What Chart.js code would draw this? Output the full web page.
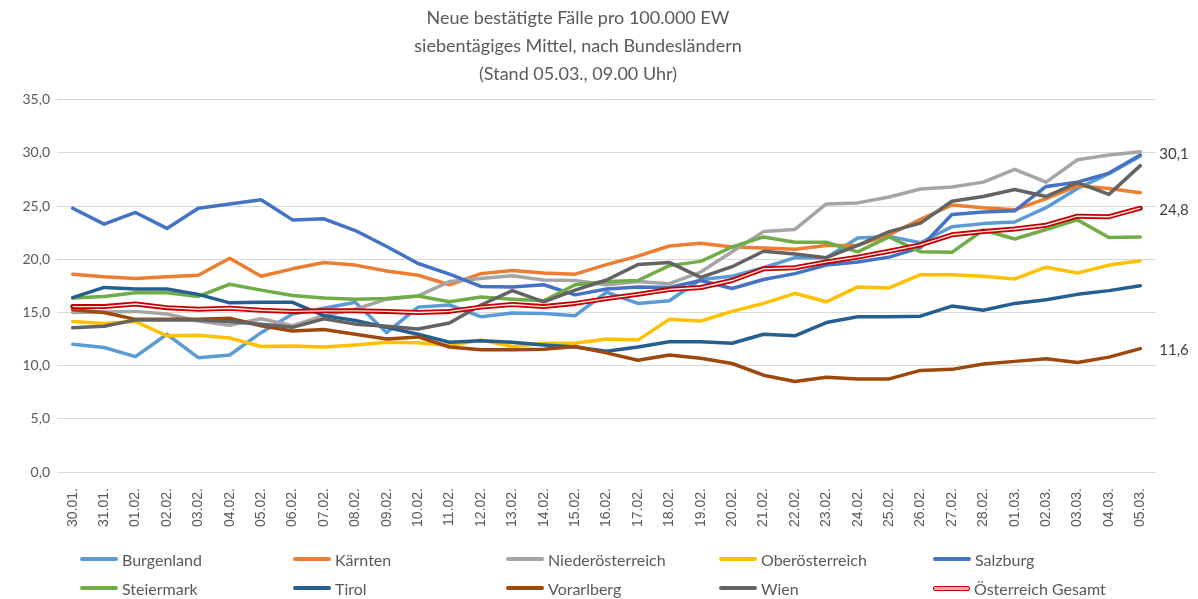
<!DOCTYPE html>
<html lang="de">
<head>
<meta charset="utf-8">
<title>Neue bestätigte Fälle pro 100.000 EW</title>
<script src="https://cdn.jsdelivr.net/npm/chart.js@4.4.1/dist/chart.umd.min.js"></script>
<style>
  html,body{margin:0;padding:0;background:#fff}
  #wrap{position:relative;width:1198px;height:599px;overflow:hidden}
  #legend{position:absolute;left:0;top:0;width:1198px;height:599px;pointer-events:none;font-family:Lato,'Liberation Sans',sans-serif;font-size:16px;color:#595959}
  .lg-item{position:absolute;display:flex;align-items:center;height:20px;white-space:nowrap}
  .lg-line{display:inline-block;width:38px;height:4px;border-radius:2px;margin-right:4px}
</style>
</head>
<body>
<div id="wrap">
  <canvas id="chart"></canvas>
  <div id="legend"></div>
</div>
<script>
// ── data ──
const labels = ['30.01.','31.01.','01.02.','02.02.','03.02.','04.02.','05.02.','06.02.','07.02.','08.02.',
  '09.02.','10.02.','11.02.','12.02.','13.02.','14.02.','15.02.','16.02.','17.02.','18.02.',
  '19.02.','20.02.','21.02.','22.02.','23.02.','24.02.','25.02.','26.02.','27.02.','28.02.',
  '01.03.','02.03.','03.03.','04.03.','05.03.'];
const yTicks = [0,5,10,15,20,25,30,35];

const burgenland  = [12.0,11.7,10.85,12.95,10.75,11.0,13.1,14.85,15.4,15.95,13.1,15.5,15.7,14.6,14.95,14.9,14.7,16.9,15.85,16.1,18.1,18.4,19.2,20.15,20.15,22.0,22.15,21.55,23.05,23.35,23.5,24.85,26.65,28.05,29.7];
const kaernten    = [18.6,18.35,18.2,18.35,18.5,20.1,18.4,19.1,19.7,19.45,18.9,18.5,17.6,18.65,18.95,18.7,18.6,19.5,20.3,21.25,21.5,21.15,21.05,20.95,21.3,21.3,22.3,23.75,25.1,24.85,24.65,25.7,26.9,26.65,26.25];
const noe         = [15.0,15.05,15.1,14.85,14.2,13.8,14.4,13.75,14.7,15.3,16.25,16.55,17.9,18.2,18.45,18.05,18.0,17.6,17.9,17.7,18.8,20.7,22.6,22.8,25.2,25.3,25.85,26.6,26.8,27.25,28.45,27.25,29.35,29.8,30.1];
const ooe         = [14.15,13.95,14.15,12.8,12.85,12.6,11.8,11.85,11.75,11.95,12.2,12.15,11.9,12.4,11.8,12.1,12.1,12.5,12.4,14.35,14.2,15.1,15.85,16.8,16.0,17.4,17.3,18.55,18.55,18.4,18.15,19.25,18.7,19.45,19.85];
const salzburg    = [24.8,23.3,24.4,22.9,24.8,25.2,25.6,23.7,23.8,22.7,21.2,19.6,18.6,17.45,17.4,17.6,16.65,17.2,17.4,17.35,18.0,17.25,18.1,18.65,19.45,19.75,20.2,21.1,24.2,24.45,24.55,26.85,27.25,28.1,29.8];
const steiermark  = [16.35,16.5,16.85,16.85,16.5,17.65,17.1,16.6,16.35,16.25,16.3,16.55,16.0,16.45,16.25,16.1,17.6,17.9,18.0,19.4,19.8,21.15,22.1,21.6,21.6,20.7,22.1,20.7,20.65,22.75,21.9,22.8,23.7,22.05,22.1];
const tirol       = [16.4,17.35,17.2,17.2,16.7,15.9,15.95,15.95,14.7,14.25,13.6,12.95,12.2,12.35,12.2,11.95,11.75,11.35,11.75,12.25,12.25,12.1,12.95,12.8,14.05,14.6,14.6,14.65,15.6,15.2,15.85,16.2,16.7,17.05,17.5];
const vorarlberg  = [15.25,15.0,14.35,14.35,14.35,14.45,13.75,13.25,13.4,12.95,12.5,12.7,11.75,11.5,11.5,11.55,11.8,11.2,10.5,11.0,10.7,10.2,9.1,8.5,8.9,8.75,8.75,9.55,9.65,10.15,10.4,10.65,10.3,10.8,11.6];
const wien        = [13.55,13.7,14.3,14.3,14.3,14.15,13.9,13.6,14.4,13.9,13.7,13.45,14.0,15.7,17.05,16.0,17.1,18.05,19.5,19.7,18.3,19.3,20.75,20.5,20.15,21.3,22.6,23.4,25.45,25.9,26.55,25.9,27.2,26.1,28.8];
const oesterreich = [15.55,15.55,15.8,15.45,15.3,15.4,15.2,15.1,15.15,15.15,15.1,15.0,15.1,15.5,15.75,15.55,15.85,16.3,16.7,17.15,17.35,18.0,19.1,19.2,19.75,20.2,20.75,21.35,22.3,22.6,22.85,23.2,24.05,24.0,24.8];

const series = [
  {name:'Burgenland',         data:burgenland,  color:'#5B9BD5'},
  {name:'Kärnten',            data:kaernten,    color:'#ED7D31'},
  {name:'Niederösterreich',   data:noe,         color:'#A5A5A5', endLabel:true},
  {name:'Oberösterreich',     data:ooe,         color:'#FFC000'},
  {name:'Salzburg',           data:salzburg,    color:'#4472C4'},
  {name:'Steiermark',         data:steiermark,  color:'#70AD47'},
  {name:'Tirol',              data:tirol,       color:'#255E91'},
  {name:'Vorarlberg',         data:vorarlberg,  color:'#9E480E', endLabel:true},
  {name:'Wien',               data:wien,        color:'#636363'},
  {name:'Österreich Gesamt',  data:oesterreich, color:'#C00000', endLabel:true, double:true}
];

const fmt = v => v.toFixed(1).replace('.', ',');

// ══════════════════════════════════════════
// DATASETS (later series drawn on top, like the original)
// ══════════════════════════════════════════
const datasets = [];
series.forEach((s, i) => {
  datasets.push({
    label: s.name, data: s.data, borderColor: s.color, backgroundColor: s.color,
    borderWidth: s.double ? 5 : 3.5, pointRadius: 0, tension: 0,
    borderJoinStyle: 'round', borderCapStyle: 'round',
    order: 20 - i, endLabel: !!s.endLabel, inLegend: true
  });
  if (s.double) {
    datasets.push({
      label: s.name + ' (innen)', data: s.data, borderColor: '#fbe3e3',
      borderWidth: 1.4, pointRadius: 0, tension: 0,
      borderJoinStyle: 'round', order: 0, inLegend: false
    });
  }
});

// value labels at the end of some lines
const endLabels = {
  id: 'endLabels',
  afterDatasetsDraw(chart) {
    const ctx = chart.ctx;
    ctx.save();
    ctx.font = '15px Lato, "Liberation Sans", sans-serif';
    ctx.fillStyle = '#404040';
    ctx.textAlign = 'left';
    ctx.textBaseline = 'middle';
    chart.data.datasets.forEach((ds, i) => {
      if (!ds.endLabel) return;
      const meta = chart.getDatasetMeta(i);
      const pt = meta.data[meta.data.length - 1];
      ctx.fillText(fmt(ds.data[ds.data.length - 1]), pt.x + 19, pt.y + 2);
    });
    ctx.restore();
  }
};

const chart = new Chart(document.getElementById('chart'), {
  type: 'line',
  data: { labels: labels, datasets: datasets },
  options: {
    responsive: true, maintainAspectRatio: false, animation: false,
    layout: { padding: { left: 0, right: 42, top: 0, bottom: 67 } },
    plugins: {
      legend: { display: false },
      tooltip: { enabled: false },
      title: {
        display: true,
        text: ['Neue bestätigte Fälle pro 100.000 EW', 'siebentägiges Mittel, nach Bundesländern', '(Stand 05.03., 09.00 Uhr)'],
        color: '#595959',
        font: { family: 'Lato, "Liberation Sans", sans-serif', size: 18, weight: 'normal', lineHeight: 1.55 },
        padding: { top: 4, bottom: 12 }
      }
    },
    scales: {
      x: {
        offset: true,
        grid: { display: false },
        border: { display: false },
        ticks: {
          autoSkip: false, maxRotation: 90, minRotation: 90, padding: 8,
          color: '#595959', font: { family: '"Liberation Sans", Arial, sans-serif', size: 14 }
        },
        afterFit: s => { s.height = 60; }
      },
      y: {
        min: 0, max: 35,
        afterBuildTicks: s => { s.ticks = yTicks.map(v => ({ value: v })); },
        grid: { color: '#d9d9d9', lineWidth: 1, drawTicks: false },
        border: { display: false },
        ticks: {
          padding: 7, color: '#595959',
          font: { family: 'Lato, "Liberation Sans", sans-serif', size: 14 },
          callback: v => fmt(v)
        },
        afterFit: s => { s.width = 57; }
      }
    }
  },
  plugins: [endLabels]
});

// ══════════════════════════════════════════
// LEGEND (two rows, five fixed columns)
// ══════════════════════════════════════════
const colX = [80, 293, 506, 719, 933];
const rowY = [559, 588];
document.getElementById('legend').innerHTML = chart.data.datasets
  .filter(ds => ds.inLegend)
  .map((ds, k) => {
    const x = colX[k % 5], y = rowY[Math.floor(k / 5)] - 10;
    const sw = ds.label === 'Österreich Gesamt'
      ? `background:#eaa9a9;border:1.5px solid ${ds.borderColor};height:3px;width:35px`
      : `background:${ds.borderColor}`;
    return `<div class="lg-item" style="left:${x}px;top:${y}px"><span class="lg-line" style="${sw}"></span>${ds.label}</div>`;
  }).join('');
</script>
</body>
</html>
